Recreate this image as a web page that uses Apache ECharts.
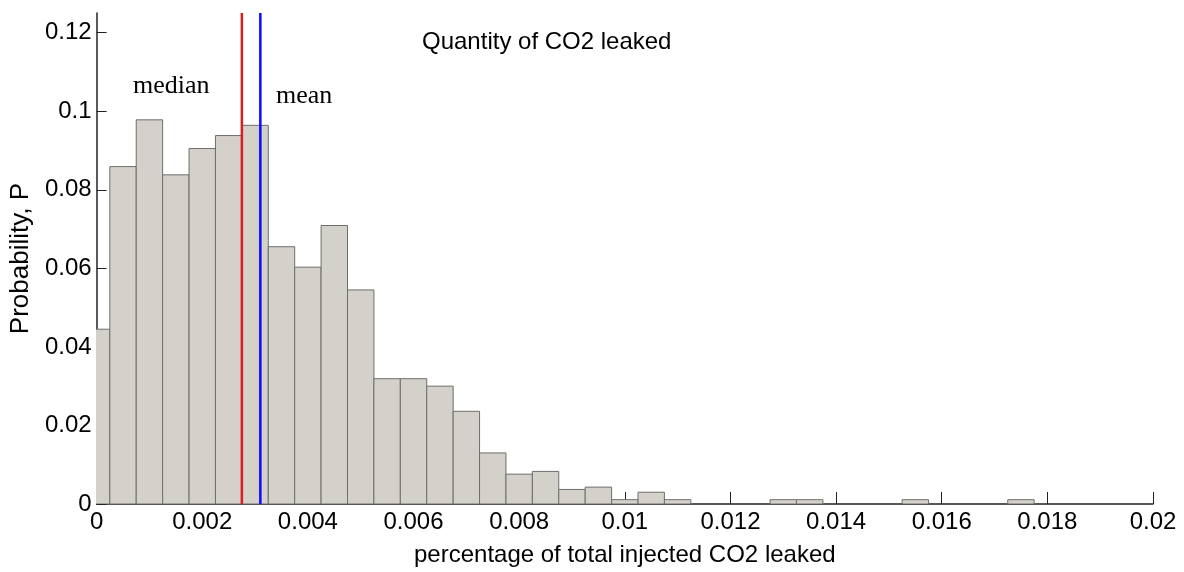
<!DOCTYPE html>
<html><head><meta charset="utf-8">
<script src="https://cdn.jsdelivr.net/npm/echarts@6/dist/echarts.min.js"></script>
<style>html,body{margin:0;padding:0;background:#fff}#c{width:1184px;height:572px}</style>
</head><body><div id="c"></div>
<script>
const binWidth = 0.0005;
const binCenters = [0,0.0005,0.001,0.0015,0.002,0.0025,0.003,0.0035,0.004,0.0045,0.005,0.0055,0.006,0.0065,0.007,0.0075,0.008,0.0085,0.009,0.0095,0.01,0.0105,0.011,0.0115,0.012,0.0125,0.013,0.0135,0.014,0.0145,0.015,0.0155,0.016,0.0165,0.017,0.0175];
const probabilities = [0.0445,0.0859,0.0978,0.0838,0.0905,0.0938,0.0964,0.0655,0.0603,0.0709,0.0545,0.0319,0.0319,0.0300,0.0236,0.0130,0.0076,0.0083,0.0037,0.0043,0.0011,0.0030,0.0011,0,0,0,0.0011,0.0011,0,0,0,0.0011,0,0,0,0.0011];
const medianValue = 0.00275;
const meanValue = 0.0031;
const yMax = 0.125;
const xTicks = [0,0.002,0.004,0.006,0.008,0.01,0.012,0.014,0.016,0.018,0.02];
const yTicks = [0,0.02,0.04,0.06,0.08,0.1,0.12];
const titleText = 'Quantity of CO2 leaked';
const xTitle = 'percentage of total injected CO2 leaked';
const yTitle = 'Probability, P';

const chart = echarts.init(document.getElementById('c'), null, {renderer:'canvas'});
const sans = 'Liberation Sans, Arial, sans-serif';
const serif = 'Liberation Serif, Times New Roman, serif';
const data = binCenters.map((c,i)=>[c, probabilities[i]]);
chart.setOption({
  animation:false,
  backgroundColor:'#fff',
  grid:{left:95,right:31,top:13,bottom:66},
  title:{text:titleText,left:417,top:25,textStyle:{fontFamily:sans,fontSize:24,fontWeight:'normal',color:'#000'}},
  xAxis:{type:'value',min:0,max:0.02,interval:0.002,
    name:xTitle,nameLocation:'middle',nameGap:39,
    nameTextStyle:{fontFamily:sans,fontSize:24,color:'#000'},
    axisLine:{lineStyle:{color:'#222',width:1.5}},
    axisTick:{inside:true,length:12,lineStyle:{color:'#222'}},
    axisLabel:{fontFamily:sans,fontSize:24,color:'#000',margin:6,customValues:xTicks},
    splitLine:{show:false}},
  yAxis:{type:'value',min:0,max:yMax,
    name:yTitle,nameLocation:'middle',nameGap:62,nameRotate:90,
    nameTextStyle:{fontFamily:sans,fontSize:26,color:'#000'},
    axisLine:{show:true,lineStyle:{color:'#222',width:1.5}},
    axisTick:{show:true,inside:true,length:10,lineStyle:{color:'#222'},customValues:yTicks},
    axisLabel:{fontFamily:sans,fontSize:24,color:'#000',margin:5,customValues:yTicks},
    splitLine:{show:false}},
  series:[{
    type:'custom',clip:true,
    renderItem:function(params,api){
      const c=api.value(0), v=api.value(1);
      const p0=api.coord([c-binWidth/2,0]);
      const p1=api.coord([c+binWidth/2,v]);
      if(v<=0) return null;
      return {type:'rect',shape:{x:p0[0],y:p1[1],width:p1[0]-p0[0],height:p0[1]-p1[1]},
        style:{fill:'#d4d1ca',stroke:'#6e6e6e',lineWidth:1}};
    },
    data:data
  },{
    type:'line',name:'median',symbol:'none',silent:true,
    lineStyle:{color:'#d81e1e',width:2.5},
    data:[[medianValue,0],[medianValue,yMax]]
  },{
    type:'line',name:'mean',symbol:'none',silent:true,
    lineStyle:{color:'#0a0aff',width:2.5},
    data:[[meanValue,0],[meanValue,yMax]]
  }],
  graphic:[
    {type:'text',x:133,y:86,style:{text:'median',font:'26px '+serif,fill:'#000',verticalAlign:'middle'}},
    {type:'text',x:276,y:96,style:{text:'mean',font:'26px '+serif,fill:'#000',verticalAlign:'middle'}}
  ]
});
</script></body></html>
